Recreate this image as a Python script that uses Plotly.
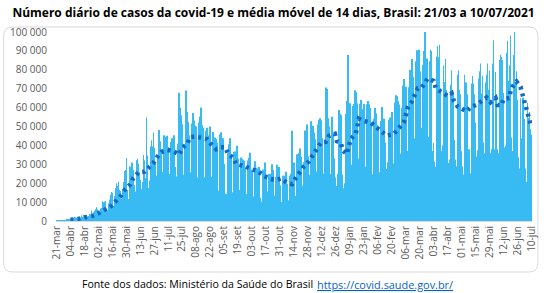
import pandas as pd
import plotly.graph_objects as go

# ---------------- data ----------------
start_date = "2020-03-21"

# daily new cases, 21/03/2020 (Sat) then weeks Sun..Sat up to 10/07/2021
cases = [
    306,
    350, 378, 323, 307, 431, 432, 487,            # 22-28 mar
    352, 323, 1138, 1119, 1074, 1146, 1222,       # 29 mar-04 abr
    852, 926, 1661, 2210, 1930, 1781, 1089,       # 05-11 abr
    1442, 1261, 1832, 3058, 2105, 3257, 2917,     # 12-18 abr
    2055, 1927, 2336, 2678, 3735, 3503, 5514,     # 19-25 abr
    3379, 4613, 5385, 6276, 7218, 6209, 4970,     # 26 abr-02 mai
    4588, 6633, 6935, 10503, 9888, 10222, 10611,  # 03-09 mai
    6760, 5632, 9258, 11385, 13944, 15305, 14919,  # 10-16 mai
    7938, 13140, 17408, 19951, 18508, 20803, 16508,  # 17-23 mai
    15813, 11687, 16324, 20599, 26417, 26928, 33274,  # 24-30 mai
    16409, 11598, 28936, 28633, 30925, 30830, 27075,  # 31 mai-06 jun
    18912, 15654, 32091, 32913, 30412, 25982, 21704,  # 07-13 jun
    17110, 20647, 34918, 32188, 22765, 54771, 34666,  # 14-20 jun
    17459, 21432, 39436, 42725, 39483, 46860, 38693,  # 21-27 jun
    30476, 24052, 33846, 46712, 48105, 42223, 37923,  # 28 jun-04 jul
    26051, 20229, 45305, 44571, 42619, 45048, 39023,  # 05-11 jul
    24831, 20286, 41857, 43829, 39924, 45403, 28532,  # 12-18 jul
    23529, 20257, 41008, 67860, 59961, 55891, 51147,  # 19-25 jul
    24578, 23284, 40816, 69074, 57837, 52383, 45392,  # 26 jul-01 ago
    25800, 16641, 51603, 57152, 53139, 50230, 49970,  # 02-08 ago
    23010, 22048, 52160, 55155, 60091, 50644, 49274,  # 09-15 ago
    23101, 19373, 47784, 49298, 45323, 30355, 50032,  # 16-22 ago
    23421, 17012, 47134, 42659, 44235, 43412, 41350,  # 23-29 ago
    16158, 15842, 45961, 46934, 43773, 43718, 30168,  # 30 ago-05 set
    14521, 10273, 14279, 35816, 40557, 43718, 33523,  # 06-12 set
    14768, 15155, 36653, 36820, 34239, 39797, 33057,  # 13-19 set
    16389, 13439, 33536, 32817, 32445, 31911, 28378,  # 20-26 set
    14318, 13155, 32058, 33413, 36157, 27176, 26310,  # 27 set-03 out
    13155, 11004, 31553, 28145, 27750, 26749, 28523,  # 04-10 out
    12342, 8426, 10220, 27235, 24818, 30914, 24062,   # 11-17 out
    13493, 15783, 24858, 23227, 24818, 30026, 26979,  # 18-24 out
    12019, 13493, 23227, 29787, 26106, 28629, 18947,  # 25-31 out
    10100, 8501, 23976, 23960, 23919, 26097, 19723,   # 01-07 nov
    10917, 10554, 23973, 25012, 47700, 29070, 31000,  # 08-14 nov
    11000, 13371, 35294, 34091, 35918, 38397, 33924,  # 15-21 nov
    18615, 16207, 31100, 47898, 37614, 51088, 34130,  # 22-28 nov
    24468, 21138, 52715, 49863, 50434, 46884, 43225,  # 29 nov-05 dez
    26363, 20371, 51088, 53453, 54428, 53347, 43900,  # 06-12 dez
    21825, 25193, 42889, 70574, 69826, 54420, 50177,  # 13-19 dez
    25019, 22967, 55202, 46696, 33216, 23000, 17341,  # 20-26 dez
    18479, 25019, 58718, 56773, 56003, 24605, 15827,  # 27 dez-02 jan
    17341, 20006, 56648, 63430, 87843, 54151, 62290,  # 03-09 jan
    29792, 25822, 60899, 61963, 69198, 68138, 62334,  # 10-16 jan
    33040, 23671, 62094, 64025, 59119, 56552, 61963,  # 17-23 jan
    28323, 28689, 61811, 63520, 61811, 59826, 52248,  # 24-30 jan
    24591, 24591, 54096, 59826, 56873, 50630, 48876,  # 31 jan-06 fev
    25800, 24591, 52911, 60301, 54096, 54096, 41564,  # 07-13 fev
    24059, 27567, 31046, 53542, 54738, 51879, 57659,  # 14-20 fev
    29026, 30535, 62715, 66588, 65998, 63430, 61602,  # 21-27 fev
    35405, 35742, 59925, 71704, 75102, 69609, 71048,  # 28 fev-06 mar
    37000, 35000, 70764, 79876, 75412, 85663, 76178,  # 07-13 mar
    43812, 36239, 84494, 90303, 86982, 90570, 79069,  # 14-20 mar
    47774, 49293, 82493, 89992, 100158, 84245, 85948,  # 21-27 mar
    44326, 44326, 84494, 90638, 89992, 37017, 41218,  # 28 mar-03 abr
    31359, 28645, 86979, 92625, 86652, 93317, 70238,  # 04-10 abr
    37017, 40000, 82186, 73513, 85774, 69373, 67636,  # 11-17 abr
    30624, 32572, 72140, 79719, 69105, 67636, 42980,  # 18-24 abr
    32572, 28935, 77359, 79726, 69389, 67009, 36887,  # 25 abr-01 mai
    28935, 24619, 77359, 73380, 73295, 67009, 37948,  # 02-08 mai
    37948, 25200, 72715, 76692, 72715, 67009, 52000,  # 09-15 mai
    34126, 37498, 75445, 79219, 83391, 67467, 76855,  # 16-22 mai
    41714, 35819, 73453, 77359, 83391, 69389, 79670,  # 23-29 mai
    35819, 37948, 83391, 95601, 37936, 78886, 65165,  # 30 mai-05 jun
    37948, 35819, 85149, 87999, 86833, 85149, 67730,  # 06-12 jun
    38903, 39846, 88992, 95367, 74042, 82288, 98135,  # 13-19 jun
    44178, 37037, 87822, 115228, 73602, 79277, 64134,  # 20-26 jun
    33704, 27804, 64903, 43836, 65163, 65165, 54022,  # 27 jun-03 jul
    27783, 20628, 62504, 54556, 57736, 48504, 45591,  # 04-10 jul
]

# 14-day moving average (day offset from 21/03/2020, value)
ma_day = [14, 21, 29, 36, 42, 49, 55, 60, 65, 69, 74, 77, 82, 88, 92, 97, 101, 105,
          111, 117, 123, 126, 131, 134, 139, 145, 151, 155, 160, 164, 169, 172, 177,
          180, 185, 190, 196, 202, 208, 214, 220, 225, 231, 236, 240, 244, 248, 253,
          257, 261, 265, 270, 273, 279, 281, 285, 287, 291, 293, 295, 300, 301, 303,
          308, 315, 320, 326, 331, 338, 343, 348, 350, 352, 356, 359, 362, 366, 369,
          372, 378, 380, 384, 389, 392, 396, 398, 402, 407, 411, 415, 421, 426, 431,
          435, 440, 442, 446, 448, 454, 455, 458, 461, 465, 467, 469, 472, 473, 475]
ma_val = [700, 1000, 2000, 2700, 4100, 6000, 8000, 10800, 13700, 17000, 19400, 22700,
          25700, 26000, 28000, 30600, 34000, 36500, 37600, 37000, 35100, 38700, 40800,
          44400, 44700, 44200, 43300, 40600, 38000, 39000, 39000, 35500, 33500, 30200,
          29600, 28700, 27300, 26300, 23800, 22300, 21600, 22500, 20200, 19500, 22900,
          26000, 29000, 31600, 35100, 38000, 41500, 41900, 45000, 46100, 42200, 41200,
          37200, 35500, 39600, 43500, 46300, 50200, 54100, 52900, 52000, 49800, 47300,
          45200, 46000, 49100, 52100, 56000, 59900, 63100, 66700, 70200, 70600, 72700,
          75400, 74100, 70400, 68800, 67000, 66200, 67600, 63800, 60600, 59000, 58000,
          60300, 61500, 63500, 65300, 62800, 65100, 61400, 61400, 64400, 65100, 68800,
          72000, 73800, 71000, 66900, 63000, 59300, 55300, 51400]

tick_labels = ["21-mar", "04-abr", "18-abr", "02-mai", "16-mai", "30-mai", "13-jun",
               "27-jun", "11-jul", "25-jul", "08-ago", "22-ago", "05-set", "19-set",
               "03-out", "17-out", "31-out", "14-nov", "28-nov", "12-dez", "26-dez",
               "09-jan", "23-jan", "06-fev", "20-fev", "06-mar", "20-mar", "03-abr",
               "17-abr", "01-mai", "15-mai", "29-mai", "12-jun", "26-jun", "10-jul"]

title_text = "Número diário de casos da covid-19 e média móvel de 14 dias, Brasil: 21/03 a 10/07/2021"
source_text = "Fonte dos dados: Ministério da Saúde do Brasil"
source_link = "https://covid.saude.gov.br/"

# ---------------- figure ----------------
W, H = 547, 293
ML, MR, MT, MB = 56, 9, 32, 72
PW, PH = W - ML - MR, H - MT - MB

start = pd.Timestamp(start_date)
dates = pd.date_range(start, periods=len(cases), freq="D")
ma_dates = [start + pd.Timedelta(days=d) for d in ma_day]
tick_vals = pd.date_range(start, periods=len(tick_labels), freq="14D")

fig = go.Figure()
fig.add_trace(go.Bar(x=dates, y=cases, marker=dict(color="#38baf2", line=dict(width=0)),
                     showlegend=False))
fig.add_trace(go.Scatter(x=ma_dates, y=ma_val, mode="lines",
                         line=dict(color="#1668c4", width=4.5, dash="3px,4px"),
                         showlegend=False))


def px2paper(px, py):
    return (px - ML) / PW, (H - MB - py) / PH


def rounded_rect(x0, y0, x1, y1, r):
    def P(x, y):
        a, b = px2paper(x, y)
        return f"{a:.5f},{b:.5f}"
    return (f"M {P(x0 + r, y0)} L {P(x1 - r, y0)} Q {P(x1, y0)} {P(x1, y0 + r)} "
            f"L {P(x1, y1 - r)} Q {P(x1, y1)} {P(x1 - r, y1)} L {P(x0 + r, y1)} "
            f"Q {P(x0, y1)} {P(x0, y1 - r)} L {P(x0, y0 + r)} Q {P(x0, y0)} {P(x0 + r, y0)} Z")


fig.add_shape(type="path", xref="paper", yref="paper",
              path=rounded_rect(3, 27, 544, 272, 9),
              line=dict(color="#d9d9d9", width=1), layer="below")

ax, ay = px2paper(318, 284)
fig.add_annotation(xref="paper", yref="paper", x=ax, y=ay, xanchor="right", yanchor="middle",
                   showarrow=False, text=source_text,
                   font=dict(family="Open Sans", size=10.6, color="#000000"))
bx, by = px2paper(318, 284)
fig.add_annotation(xref="paper", yref="paper", x=bx, y=by, xanchor="left", yanchor="middle",
                   showarrow=False,
                   text="<span style='text-decoration:underline'>" + source_link + "</span>",
                   font=dict(family="Open Sans", size=10.9, color="#0563c1"))

fig.update_layout(
    width=W, height=H,
    margin=dict(l=ML, r=MR, t=MT, b=MB),
    paper_bgcolor="white", plot_bgcolor="white",
    separators=", ",
    bargap=0.42,
    title=dict(text="<b>" + title_text + "</b>", xref="container", yref="container",
               x=0.5, xanchor="center", y=1 - 13 / H, yanchor="middle",
               font=dict(family="Open Sans", size=12, color="#000000")),
    xaxis=dict(type="date", range=[start - pd.Timedelta(hours=12), dates[-1] + pd.Timedelta(hours=12)],
               tickmode="array", tickvals=tick_vals, ticktext=tick_labels, tickangle=-90,
               tickfont=dict(family="Open Sans", size=10, color="#595959"),
               showgrid=False, showline=True, linecolor="#d9d9d9", linewidth=1,
               ticks="", zeroline=False),
    yaxis=dict(range=[0, 100000], dtick=10000, tickformat=",.0f",
               tickfont=dict(family="Open Sans", size=10, color="#595959"),
               showgrid=False, zeroline=False, showline=False, ticks="",
               ticklabelstandoff=8),
)

fig.write_html("out.html")
